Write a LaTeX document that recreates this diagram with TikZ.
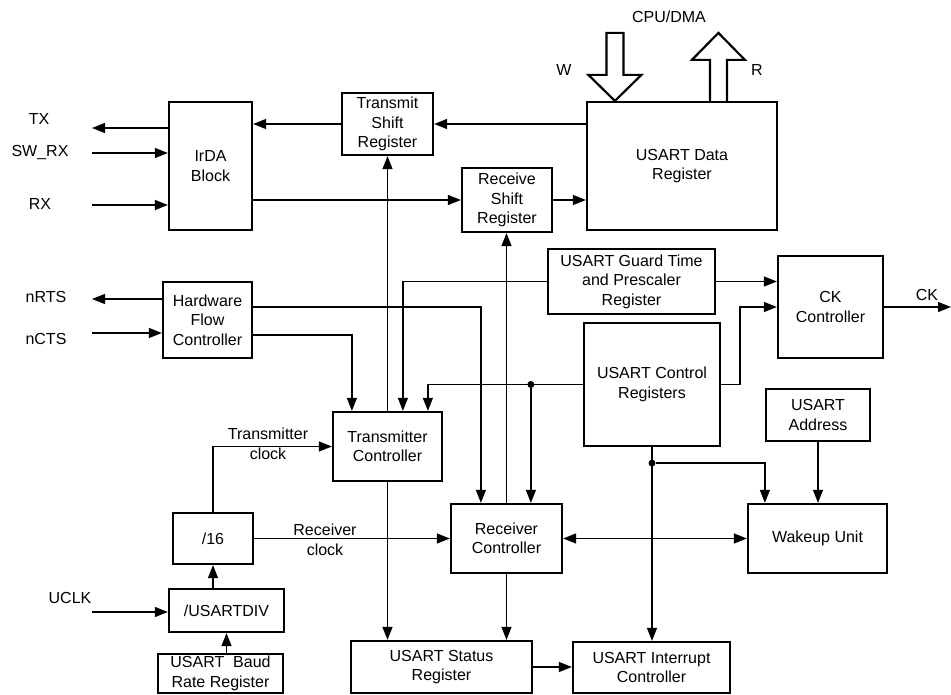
\documentclass[tikz,border=0pt]{standalone}
\usepackage{fontspec}
\setmainfont{Liberation Sans}
\usepackage{tikz}
\usetikzlibrary{arrows.meta, calc}

\begin{document}
\begin{tikzpicture}[
      x=1pt, y=-1pt,
      font=\fontsize{16}{19.5}\selectfont,
      box/.style={draw, line width=2.2pt, inner sep=0pt, align=center},
      sz/.style 2 args={minimum width=#1pt, minimum height=#2pt},
      lbl/.style={inner sep=0pt, align=center},
      arr/.style={-{Triangle[length=13pt, width=10pt]}, line width=1.3pt},
      arrr/.style={{Triangle[length=13pt, width=10pt]}-{Triangle[length=13pt, width=10pt]}, line width=1.3pt},
      fat/.style={draw, line width=2.2pt, line join=miter},
      dot/.style={circle, fill, inner sep=0pt, minimum size=7pt}
  ]
    \useasboundingbox (0,0) rectangle (951,695);

    % register and controller blocks
    \node[box, sz={83}{128}]  (irda)   at (210.5,166)   {IrDA\\Block};
    \node[box, sz={91}{62}]   (tsr)    at (387.5,124)   {Transmit\\Shift\\Register};
    \node[box, sz={90}{64}]   (rsr)    at (507,200)     {Receive\\Shift\\Register};
    \node[box, sz={190}{128}] (data)   at (682,166)     {USART Data\\Register};
    \node[box, sz={89}{76}]   (hfc)    at (207.5,320)   {Hardware\\Flow\\Controller};
    \node[box, sz={167}{65}]  (guard)  at (631.5,281.5) {USART Guard Time\\and Prescaler\\Register};
    \node[box, sz={105}{102}] (ckc)    at (830.5,307)   {CK\\Controller};
    \node[box, sz={136}{123}] (ctrl)   at (652,384.5)   {USART Control\\Registers};
    \node[box, sz={104}{52}]  (addr)   at (818,415)     {USART\\Address};
    \node[box, sz={109}{69}]  (tc)     at (387.5,446.5) {Transmitter\\Controller};
    \node[box, sz={111}{69}]  (rc)     at (506.5,538.5) {Receiver\\Controller};
    \node[box, sz={139}{69}]  (wake)   at (817.5,538.5) {Wakeup Unit};
    \node[box, sz={80}{51}]   (div16)  at (213,538.5)   {/16};
    \node[box, sz={115}{43}]  (udiv)   at (226.5,610.5) {/USARTDIV};
    \node[box, sz={125}{39}]  (baud)   at (220.5,673.5) {USART\ \ Baud\\Rate Register};
    \node[box, sz={181}{52}]  (status) at (441.5,667)   {USART Status\\Register};
    \node[box, sz={157}{51}]  (intr)   at (651.5,667.5) {USART Interrupt\\Controller};

    % pin and signal labels
    \node[lbl] (tx)    at (39,119)  {TX};
    \node[lbl] (swrx)  at (40,153)  {SW\_RX};
    \node[lbl] (rx)    at (40,204)  {RX};
    \node[lbl] (nrts)  at (46,297)  {nRTS};
    \node[lbl] (ncts)  at (46,339)  {nCTS};
    \node[lbl] (uclk)  at (70,598)  {UCLK};
    \node[lbl] (ck)    at (927,295) {CK};
    \node[lbl] (wlbl)  at (564,70)  {W};
    \node[lbl] (rlbl)  at (757,70)  {R};
    \node[lbl] (cpu)   at (669,17)  {CPU/DMA};
    \node[lbl] (txclk) at (268,444) {Transmitter\\clock};
    \node[lbl] (rxclk) at (325,540) {Receiver\\clock};

    \coordinate (txend)   at (92,128);
    \coordinate (swrxin)  at (92,153);
    \coordinate (rxin)    at (92,205);
    \coordinate (nrtsend) at (92,299);
    \coordinate (nctsin)  at (92,333);
    \coordinate (uclkin)  at (92,612);
    \coordinate (ckend)   at (951,307);

    % CPU/DMA bus arrows
    \coordinate (wtip)  at ($(data.north west)+(29,0)$);
    \coordinate (rbase) at ($(data.north west)+(132.5,0)$);
    \draw[fat] (wtip) -- ++(-26.5,-26) -- ++(18,0) -- ++(0,-42) -- ++(17,0)
               -- ++(0,42) -- ++(18,0) -- cycle;
    \draw[fat] ($(rbase)+(-8.5,0)$) -- ++(0,-41) -- ++(-18,0) -- ++(26.5,-27)
               -- ++(26.5,27) -- ++(-18,0) -- ++(0,41);

    % data path
    \draw[arr] (irda.west |- txend) -- (txend);
    \draw[arr] (swrxin) -- (irda.west |- swrxin);
    \draw[arr] (rxin) -- (irda.west |- rxin);
    \draw[arr] (tsr.west) -- (irda.east |- tsr.west);
    \draw[arr] (data.west |- tsr.east) -- (tsr.east);
    \draw[arr] (irda.east |- rsr.west) -- (rsr.west);
    \draw[arr] (rsr.east) -- (data.west |- rsr.east);
    \draw[arr] (tc.north) -- (tsr.south);
    \draw[arr] (rc.north) -- (rc.north |- rsr.south);

    % flow control
    \draw[arr] (hfc.west |- nrtsend) -- (nrtsend);
    \draw[arr] (nctsin) -- (hfc.west |- nctsin);
    \draw[arr] ($(hfc.north east)+(0,26)$) -| ($(rc.north west)+(31,0)$);
    \draw[arr] ($(hfc.north east)+(0,54)$) -| ($(tc.north west)+(20,0)$);

    % control registers
    \draw[arr] (guard.west) -| ($(tc.north west)+(71,0)$);
    \draw[arr] (guard.east) -- (ckc.west |- guard.east);
    \draw[arr] (ctrl.west) -| ($(tc.north west)+(96,0)$);
    \node[dot] (j1) at ($(ctrl.west)+(-52,0)$) {};
    \draw[arr] (j1) -- (j1 |- rc.north);
    \draw[arr] (ctrl.east) -- ++(19,0) |- (ckc.west);
    \draw[arr] (ckc.east) -- (ckend);
    \draw[arr] (ctrl.south) -- (ctrl.south |- intr.north);
    \node[dot] (j2) at ($(ctrl.south)+(0,16)$) {};
    \draw[arr] (j2) -| ($(wake.north west)+(18,0)$);
    \draw[arr] (addr.south) -- (addr.south |- wake.north);
    \draw[arrr] (rc.east) -- (wake.west);

    % status and interrupt
    \draw[arr] (tc.south) -- (tc.south |- status.north);
    \draw[arr] (rc.south) -- (rc.south |- status.north);
    \draw[arr] (status.east) -- (intr.west |- status.east);

    % baud rate generation
    \draw[arr] (uclkin) -- (udiv.west |- uclkin);
    \draw[arr] (udiv.south |- baud.north) -- (udiv.south);
    \draw[arr] (div16.south |- udiv.north) -- (div16.south);
    \draw[arr] (div16.north) |- (tc.west);
    \draw[arr] (div16.east) -- (rc.west);
  \end{tikzpicture}
\end{document}
